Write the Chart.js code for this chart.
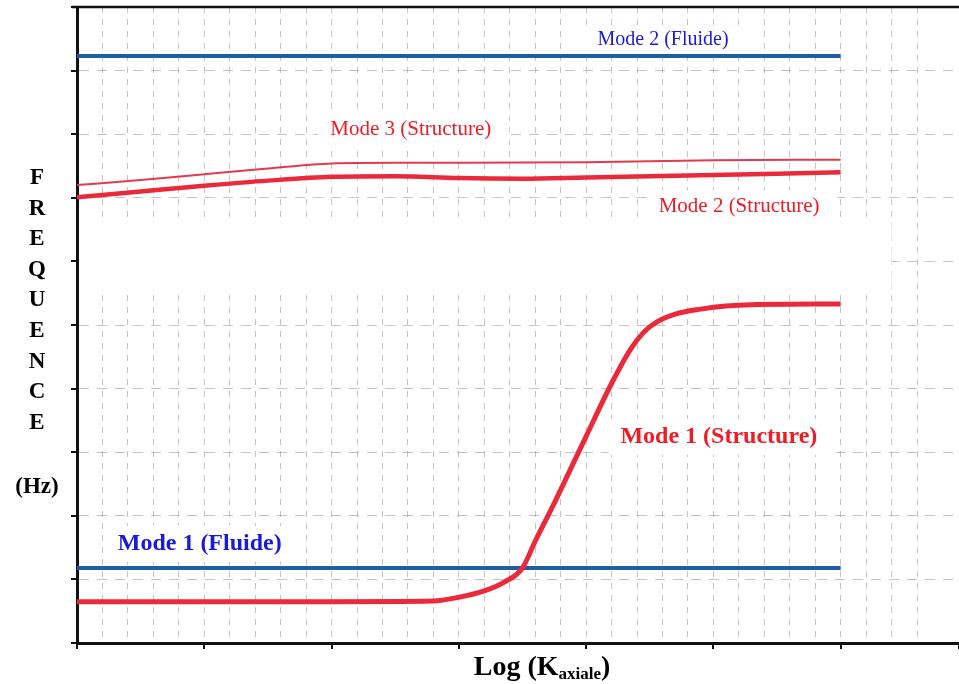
<!DOCTYPE html>
<html>
<head>
<meta charset="utf-8">
<script src="https://cdn.jsdelivr.net/npm/chart.js@4.4.0/dist/chart.umd.min.js"></script>
<style>
  html, body { margin: 0; padding: 0; background: #fff; }
  #wrap { width: 959px; height: 684px; position: relative; }
</style>
</head>
<body>
<div id="wrap"><canvas id="freqChart"></canvas></div>
<script>
// x = Log(K axiale), one unit per major tick ; y = frequence, one unit per major tick
const xMode1Fluide = [0, 6];
const yMode1Fluide = [1.18, 1.18];

const xMode2Fluide = [0, 6];
const yMode2Fluide = [9.23, 9.23];

const xMode1Struct = [0, 1, 2, 2.8, 3.0, 3.2, 3.35, 3.5, 3.6, 3.75, 4.0, 4.2, 4.35, 4.45, 4.55, 4.7, 4.9, 5.1, 5.3, 6];
const yMode1Struct = [0.65, 0.65, 0.65, 0.66, 0.72, 0.82, 0.95, 1.18, 1.6, 2.2, 3.25, 4.08, 4.62, 4.88, 5.04, 5.17, 5.25, 5.30, 5.32, 5.33];

const xMode2Struct = [0, 0.5, 1, 1.5, 2, 2.5, 3, 3.5, 4, 5, 6];
const yMode2Struct = [7.01, 7.10, 7.19, 7.27, 7.33, 7.34, 7.31, 7.30, 7.32, 7.36, 7.40];

const xMode3Struct = [0, 0.5, 1, 1.5, 2, 2.5, 3, 4, 5, 6];
const yMode3Struct = [7.20, 7.28, 7.37, 7.46, 7.54, 7.55, 7.55, 7.56, 7.59, 7.60];

const yTitleLetters = ["F", "R", "E", "Q", "U", "E", "N", "C", "E"];

// curve labels: text, left x / middle y in data units
const curveLabels = [
  { text: "Mode 2 (Fluide)", x: 4.09, y: 9.48, color: "#1a1adc", bold: false, size: 20 },
  { text: "Mode 3 (Structure)", x: 1.99, y: 8.07, color: "#ee1c24", bold: false, size: 21 },
  { text: "Mode 2 (Structure)", x: 4.57, y: 6.87, color: "#ee1c24", bold: false, size: 21 },
  { text: "Mode 1 (Structure)", x: 4.27, y: 3.24, color: "#ee1c24", bold: true, size: 24 },
  { text: "Mode 1 (Fluide)", x: 0.32, y: 1.56, color: "#1a1adc", bold: true, size: 24 },
];

// blank band of the scan where no grid shows
const blankBand = { x0: 0, x1: 6.4, y0: 5.55, y1: 6.62 };

function pts(xs, ys) {
  return xs.map((x, i) => ({ x: x, y: ys[i] }));
}

const serif = "'Liberation Serif', 'DejaVu Serif', serif";

const decorPlugin = {
  id: "decor",
  beforeDatasetsDraw(chart) {
    const ctx = chart.ctx;
    const sx = chart.scales.x, sy = chart.scales.y;
    const area = chart.chartArea;
    ctx.save();
    ctx.fillStyle = "#fff";
    // white band
    const bx0 = Math.max(sx.getPixelForValue(blankBand.x0), area.left + 2);
    ctx.fillRect(bx0, sy.getPixelForValue(blankBand.y1),
      sx.getPixelForValue(blankBand.x1) - bx0,
      sy.getPixelForValue(blankBand.y0) - sy.getPixelForValue(blankBand.y1));
    // white boxes behind labels
    curveLabels.forEach((l) => {
      ctx.font = (l.bold ? "bold " : "") + l.size + "px " + serif;
      const w = ctx.measureText(l.text).width;
      const px = sx.getPixelForValue(l.x), py = sy.getPixelForValue(l.y);
      ctx.fillRect(Math.max(px - 12, area.left + 2), py - l.size * 0.75, w + 30, l.size * 1.5);
    });
    ctx.restore();
  },
  afterDraw(chart) {
    const ctx = chart.ctx;
    const sx = chart.scales.x, sy = chart.scales.y;
    const area = chart.chartArea;
    ctx.save();
    // top frame line
    ctx.strokeStyle = "#111";
    ctx.lineWidth = 2.5;
    ctx.beginPath();
    ctx.moveTo(area.left - 5, area.top);
    ctx.lineTo(area.right, area.top);
    ctx.stroke();

    // curve labels
    ctx.textBaseline = "middle";
    ctx.textAlign = "left";
    curveLabels.forEach((l) => {
      ctx.font = (l.bold ? "bold " : "") + l.size + "px " + serif;
      ctx.fillStyle = l.color;
      ctx.fillText(l.text, sx.getPixelForValue(l.x), sy.getPixelForValue(l.y));
    });

    // y title, stacked letters
    ctx.fillStyle = "#000";
    ctx.textAlign = "center";
    ctx.font = "bold 23px " + serif;
    const tx = area.left - 40;
    yTitleLetters.forEach((c, i) => {
      ctx.fillText(c, tx, 178 + i * 30.6);
    });
    ctx.fillText("(Hz)", tx, 487);

    // x title with subscript
    ctx.textBaseline = "alphabetic";
    ctx.textAlign = "left";
    const mainFont = "bold 28px " + serif;
    const subFont = "bold 17px " + serif;
    ctx.font = mainFont;
    const w1 = ctx.measureText("Log (K").width;
    const w3 = ctx.measureText(")").width;
    ctx.font = subFont;
    const w2 = ctx.measureText("axiale").width;
    let x0 = 542 - (w1 + w2 + w3) / 2;
    const base = 675;
    ctx.font = mainFont;
    ctx.fillText("Log (K", x0, base);
    ctx.font = subFont;
    ctx.fillText("axiale", x0 + w1, base + 4);
    ctx.font = mainFont;
    ctx.fillText(")", x0 + w1 + w2, base);
    ctx.restore();
  },
};

const gridColor = "rgba(150,150,140,0.55)";

new Chart(document.getElementById("freqChart"), {
  type: "line",
  data: {
    datasets: [
      {
        label: "Mode 1 (Structure)",
        data: pts(xMode1Struct, yMode1Struct),
        borderColor: "#ea2a3a",
        borderWidth: 5,
        cubicInterpolationMode: "monotone",
      },
      {
        label: "Mode 1 (Fluide)",
        data: pts(xMode1Fluide, yMode1Fluide),
        borderColor: "#1f5da6",
        borderWidth: 4,
      },
      {
        label: "Mode 2 (Structure)",
        data: pts(xMode2Struct, yMode2Struct),
        borderColor: "#ea2a3a",
        borderWidth: 4.5,
        cubicInterpolationMode: "monotone",
      },
      {
        label: "Mode 3 (Structure)",
        data: pts(xMode3Struct, yMode3Struct),
        borderColor: "#e43a50",
        borderWidth: 2,
        cubicInterpolationMode: "monotone",
      },
      {
        label: "Mode 2 (Fluide)",
        data: pts(xMode2Fluide, yMode2Fluide),
        borderColor: "#1f5da6",
        borderWidth: 4,
      },
    ],
  },
  options: {
    responsive: true,
    maintainAspectRatio: false,
    animation: false,
    elements: { point: { radius: 0 } },
    layout: { padding: { left: 71, top: 7, right: 0, bottom: 35 } },
    plugins: {
      legend: { display: false },
      tooltip: { enabled: false },
    },
    scales: {
      x: {
        type: "linear",
        min: 0,
        max: 6.93,
        ticks: { display: false, stepSize: 0.2 },
        grid: { color: gridColor, lineWidth: 1, drawTicks: false },
        border: { display: true, color: "#111", width: 3, dash: [6, 6] },
      },
      x2: {
        type: "linear",
        position: "bottom",
        min: 0,
        max: 6.93,
        ticks: { display: false, stepSize: 1 },
        grid: { drawOnChartArea: false, drawTicks: true, tickLength: 6, color: "#111", lineWidth: 2 },
        border: { display: false },
      },
      y: {
        type: "linear",
        min: 0,
        max: 10,
        ticks: { display: false, stepSize: 1 },
        grid: { color: gridColor, lineWidth: 1, drawTicks: false },
        border: { display: true, color: "#111", width: 3, dash: [10, 8] },
      },
      y2: {
        type: "linear",
        position: "left",
        min: 0,
        max: 10,
        ticks: { display: false, stepSize: 1 },
        grid: { drawOnChartArea: false, drawTicks: true, tickLength: 6, color: "#111", lineWidth: 2 },
        border: { display: false },
      },
    },
  },
  plugins: [decorPlugin],
});
</script>
</body>
</html>
